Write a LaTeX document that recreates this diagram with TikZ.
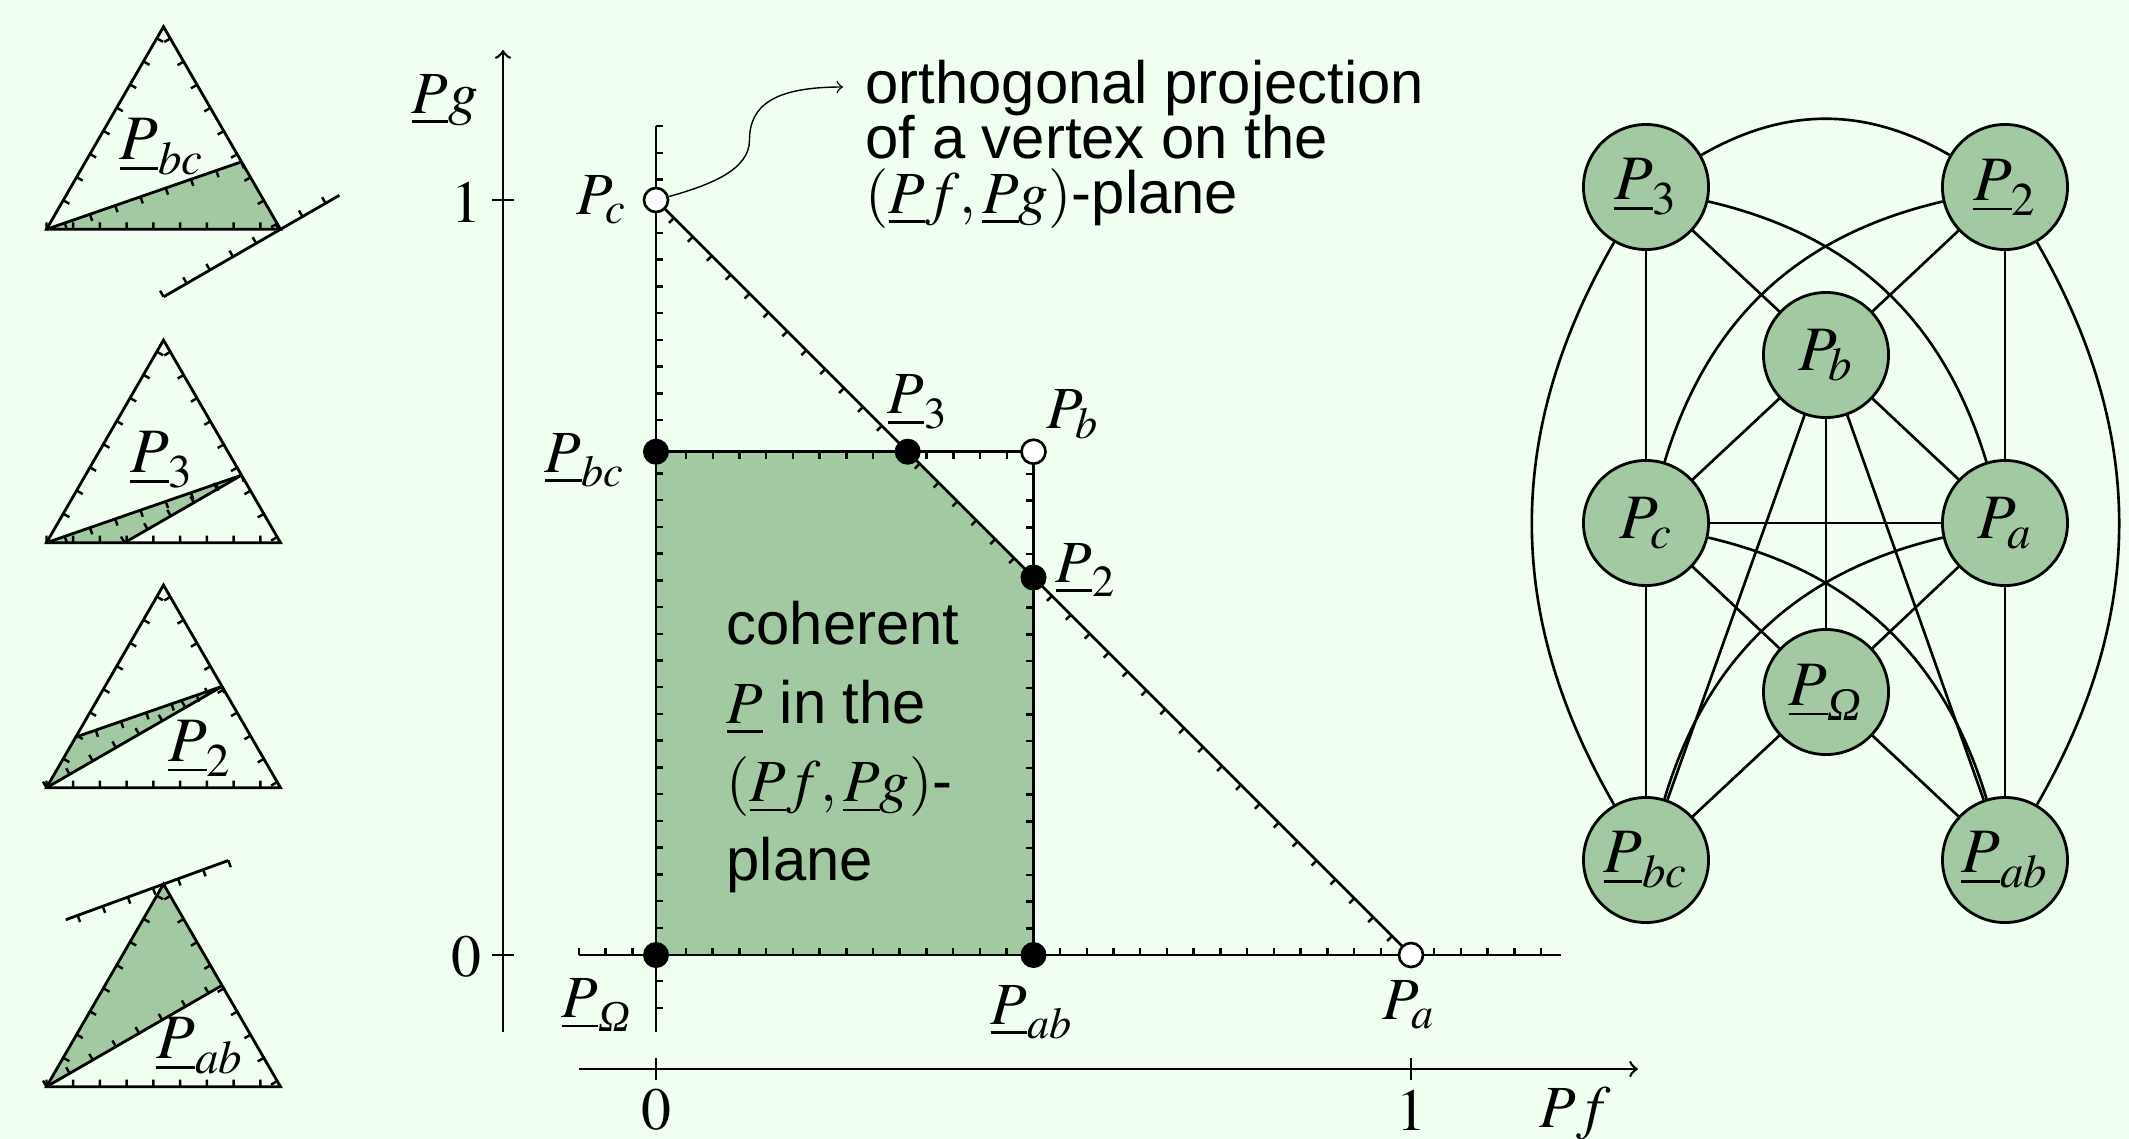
\documentclass[tikz,border=0pt]{standalone}
\usepackage{mathptmx}
\usepackage{amsmath}
\usepackage[no-math]{fontspec}
\setmainfont{Liberation Sans}
\newfontfamily\tmgreek{Liberation Serif}
\newcommand{\itOmega}{\text{\tmgreek\itshape Ω}}
\usetikzlibrary{decorations.pathreplacing}
\definecolor{bg}{RGB}{240,255,240}
\definecolor{sea}{RGB}{162,201,162}
\tikzset{
  ln/.style={line width=0.75pt},
  ticked/.style={line width=0.8pt, draw, postaction={draw, line width=0.7pt, decorate, decoration={border, angle=90, amplitude=2pt, segment length=7.6pt}}},
  opendot/.style={circle, draw, fill=white, line width=0.75pt, minimum size=0.24cm, inner sep=0pt},
  fulldot/.style={circle, fill=black, minimum size=0.26cm, inner sep=0pt},
  lab/.style={font=\fontsize{17}{20}\selectfont, inner sep=0pt},
  tlab/.style={font=\fontsize{18}{20}\selectfont, inner sep=0pt},
  gnode/.style={circle, draw, fill=sea, line width=0.8pt, minimum size=1.25cm, inner sep=0pt, font=\fontsize{18}{20}\selectfont},
  gedge/.style={line width=0.75pt},
}
\begin{document}
\begin{tikzpicture}[x=0.01cm,y=0.01cm]
\useasboundingbox (0,0) rectangle (2129,-1139);
\fill[bg] (0,0) rectangle (2129,-1139);

% ---------- triangle 1 ----------
\begin{scope}[shift={(46.5,-229.3)}]
  \coordinate (t1A) at (0,0);
  \coordinate (t1B) at (234,0);
  \coordinate (t1C) at (117,202.6);
  \coordinate (t1R) at (195,67.5);
  \coordinate (t1e) at (117.1,-67.5);
  \coordinate (t1f) at (292.9,34);
  \fill[sea] (t1A) -- (t1B) -- (t1R) -- cycle;
  \draw[ticked] (t1A) -- (t1B) -- (t1C) -- cycle;
  \draw[ticked] (t1R) -- (t1A);
  \draw[ticked] (t1e) -- (t1f);
\end{scope}
\node[tlab] (t1lab) at (162,-147) {$\underline{P}_{bc}$};

% ---------- triangle 2 ----------
\begin{scope}[shift={(46.5,-542.7)}]
  \coordinate (t2A) at (0,0);
  \coordinate (t2B) at (234,0);
  \coordinate (t2C) at (117,202.6);
  \coordinate (t2R) at (195,67.5);
  \coordinate (t2Q) at (78,0);
  \fill[sea] (t2A) -- (t2Q) -- (t2R) -- cycle;
  \draw[ticked] (t2A) -- (t2B) -- (t2C) -- cycle;
  \draw[ticked] (t2R) -- (t2A);
  \draw[ticked] (t2Q) -- (t2R);
\end{scope}
\node[tlab] (t2lab) at (162,-460) {$\underline{P}_{3}$};

% ---------- triangle 3 ----------
\begin{scope}[shift={(46.5,-787.7)}]
  \coordinate (t3A) at (0,0);
  \coordinate (t3B) at (234,0);
  \coordinate (t3C) at (117,202.6);
  \coordinate (t3R) at (175.5,101.3);
  \coordinate (t3L) at (29.25,50.65);
  \fill[sea] (t3A) -- (t3R) -- (t3L) -- cycle;
  \draw[ticked] (t3A) -- (t3B) -- (t3C) -- cycle;
  \draw[ticked] (t3R) -- (t3L);
  \draw[ticked] (t3A) -- (t3R);
\end{scope}
\node[tlab] (t3lab) at (200,-748) {$\underline{P}_{2}$};

% ---------- triangle 4 ----------
\begin{scope}[shift={(46.5,-1086.7)}]
  \coordinate (t4A) at (0,0);
  \coordinate (t4B) at (234,0);
  \coordinate (t4C) at (117,202.6);
  \coordinate (t4R) at (175.5,101.3);
  \coordinate (t4e) at (181.8,226.2);
  \coordinate (t4f) at (19.3,167);
  \fill[sea] (t4A) -- (t4R) -- (t4C) -- cycle;
  \draw[ticked] (t4A) -- (t4B) -- (t4C) -- cycle;
  \draw[ticked] (t4A) -- (t4R);
  \draw[ticked] (t4e) -- (t4f);
\end{scope}
\node[tlab] (t4lab) at (200,-1046) {$\underline{P}_{ab}$};

% ---------- main plot ----------
\coordinate (cO) at (656,-955);
\coordinate (cPc) at (656,-200);
\coordinate (cPa) at (1411,-955);
\coordinate (cPbc) at (656,-451.7);
\coordinate (cPb) at (1033.5,-451.7);
\coordinate (cP3) at (907.7,-451.7);
\coordinate (cP2) at (1033.5,-577.5);
\coordinate (cPab) at (1033.5,-955);
\coordinate (hL) at (579,-955);
\coordinate (hR) at (1561,-955);
\coordinate (vT) at (656,-126);
\coordinate (vB) at (656,-1032);

\fill[sea] (cO) -- (cPbc) -- (cP3) -- (cP2) -- (cPab) -- cycle;
\draw[ticked] (hL) -- (hR);
\draw[ticked] (vT) -- (vB);
\draw[ticked] (cPa) -- (cPc);
\draw[ticked] (cPb) -- (cPbc);
\draw[ticked] (cPab) -- (cPb);

% outer axes
\coordinate (gB) at (503,-1032);
\coordinate (gT) at (503,-50);
\coordinate (fL) at (579,-1069);
\coordinate (fR) at (1638,-1069);
\draw[ln,->] (gB) -- (gT);
\draw[ln,->] (fL) -- (fR);
\coordinate (gt1a) at (492,-200); \coordinate (gt1b) at (514,-200);
\coordinate (gt0a) at (492,-955); \coordinate (gt0b) at (514,-955);
\coordinate (ft0a) at (656,-1058); \coordinate (ft0b) at (656,-1080);
\coordinate (ft1a) at (1411,-1058); \coordinate (ft1b) at (1411,-1080);
\draw[ln] (gt1a) -- (gt1b);
\draw[ln] (gt0a) -- (gt0b);
\draw[ln] (ft0a) -- (ft0b);
\draw[ln] (ft1a) -- (ft1b);

\node[lab] (n1y) at (466,-202) {$1$};
\node[lab] (n0y) at (466,-957) {$0$};
\node[lab] (nPg) at (445,-100) {$\underline{P}g$};
\node[lab] (n0x) at (656,-1110) {$0$};
\node[lab] (n1x) at (1411,-1110) {$1$};
\node[lab] (nPf) at (1575,-1114) {$Pf$};

% dots
\node[opendot] (Pc) at (cPc) {};
\node[opendot] (Pa) at (cPa) {};
\node[opendot] (Pb) at (cPb) {};
\node[fulldot] (Pbc) at (cPbc) {};
\node[fulldot] (P3) at (cP3) {};
\node[fulldot] (P2) at (cP2) {};
\node[fulldot] (PO) at (cO) {};
\node[fulldot] (Pab) at (cPab) {};

% point labels
\node[lab] (lPc) at (602,-200) {$P_c$};
\node[lab] (lPbc) at (585,-460) {$\underline{P}_{bc}$};
\node[lab] (lP3) at (918,-402) {$\underline{P}_{3}$};
\node[lab] (lPb) at (1073,-414) {$P_b$};
\node[lab] (lP2) at (1086,-570) {$\underline{P}_{2}$};
\node[lab] (lPO) at (597,-1005) {$\underline{P}_{\itOmega}$};
\node[lab] (lPab) at (1032,-1012) {$\underline{P}_{ab}$};
\node[lab] (lPa) at (1409,-1005) {$P_a$};

% callout
\coordinate (callend) at (843,-87);
\draw[line width=0.4pt,->] (Pc.15) .. controls (710,-185) and (749.5,-170) .. (749.5,-140) .. controls (749.5,-105) and (775,-87) .. (callend);
\node[anchor=west, align=left, inner sep=0pt, font={\fontsize{17}{15.6}\selectfont\lineskiplimit=-20pt}] (note) at (865,-144)
  {orthogonal projection\\of a vertex on the\\$(\underline{P}f,\underline{P}g)$-plane};

\node[anchor=west, align=left, inner sep=0pt, font={\fontsize{17}{22.4}\selectfont}] (coh) at (726,-747)
  {coherent\\$\underline{P}$ in the\\$(\underline{P}f,\underline{P}g)$-\\plane};

% ---------- graph ----------
\node[gnode] (g3) at (1646,-187) {$\underline{P}_3$};
\node[gnode] (g2) at (2005,-187) {$\underline{P}_2$};
\node[gnode] (gb) at (1826,-355) {$P_b$};
\node[gnode] (gc) at (1646,-523) {$P_c$};
\node[gnode] (ga) at (2005,-523) {$P_a$};
\node[gnode] (gO) at (1826,-692) {$\underline{P}_{\itOmega}$};
\node[gnode] (gbc) at (1646,-860) {$\underline{P}_{bc}$};
\node[gnode] (gab) at (2005,-860) {$\underline{P}_{ab}$};

\draw[gedge] (g3) to[bend left=30] (g2);
\draw[gedge] (g3) to[bend right=30] (gbc);
\draw[gedge] (g2) to[bend left=30] (gab);
\draw[gedge] (g3) to[bend left=30] (ga);
\draw[gedge] (g2) to[bend right=30] (gc);
\draw[gedge] (gc) to[bend left=30] (gab);
\draw[gedge] (ga) to[bend right=30] (gbc);
\draw[gedge] (g3) -- (gc);
\draw[gedge] (g2) -- (ga);
\draw[gedge] (g3) -- (gb);
\draw[gedge] (g2) -- (gb);
\draw[gedge] (gb) -- (gc);
\draw[gedge] (gb) -- (ga);
\draw[gedge] (gb) -- (gbc);
\draw[gedge] (gb) -- (gab);
\draw[gedge] (gb) -- (gO);
\draw[gedge] (gc) -- (ga);
\draw[gedge] (gc) -- (gO);
\draw[gedge] (ga) -- (gO);
\draw[gedge] (gc) -- (gbc);
\draw[gedge] (ga) -- (gab);
\draw[gedge] (gO) -- (gbc);
\draw[gedge] (gO) -- (gab);
\end{tikzpicture}
\end{document}
